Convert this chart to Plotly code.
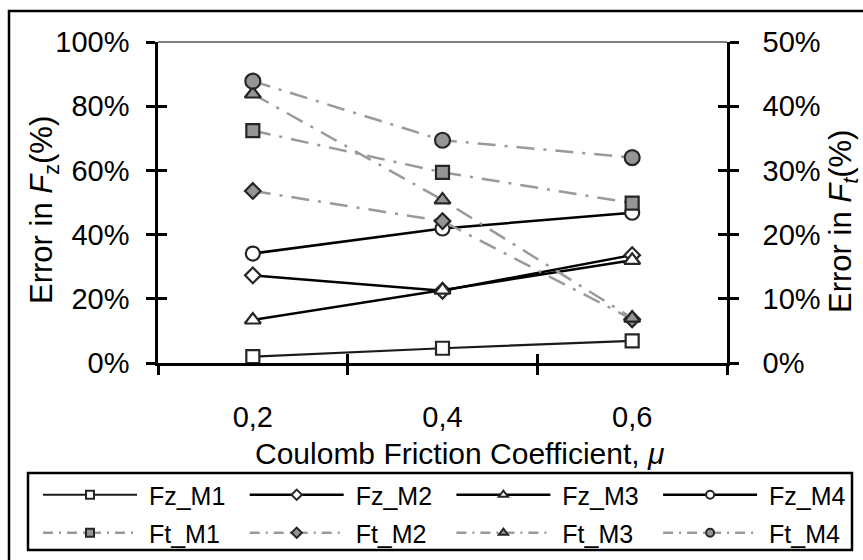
import plotly.graph_objects as go

# Friction coefficient categories
mu = ["0,2", "0,4", "0,6"]

# Error in normal force Fz (left axis, fraction)
fz_m1 = [0.020, 0.046, 0.069]
fz_m2 = [0.273, 0.225, 0.336]
fz_m3 = [0.134, 0.227, 0.320]
fz_m4 = [0.341, 0.419, 0.468]

# Error in tangential force Ft (right axis, fraction)
ft_m1 = [0.362, 0.297, 0.249]
ft_m2 = [0.268, 0.221, 0.068]
ft_m3 = [0.419, 0.254, 0.070]
ft_m4 = [0.439, 0.347, 0.320]

left_ticks = [0, 0.2, 0.4, 0.6, 0.8, 1.0]
right_ticks = [0, 0.1, 0.2, 0.3, 0.4, 0.5]

FONT = "Liberation Sans, Arial, sans-serif"
DASH = "18px,9px,3px,9px"
EDGE = "#262626"
GRAY_LINE = "#9a9a9a"
GRAY_FILL = "#959595"

# plot-area geometry in pixels
W, H = 863, 560
L, R, T, B = 158, 727, 42, 363
PW, PH = R - L, B - T


def px(x):
    return (x - L) / PW


def py(y):
    return (B - y) / PH


fz_series = [
    ("Fz_M1", fz_m1, "square", 13, "#1a1a1a", 2.2),
    ("Fz_M2", fz_m2, "diamond", 12, "#000000", 2.5),
    ("Fz_M3", fz_m3, "triangle-up", 14, "#000000", 2.5),
    ("Fz_M4", fz_m4, "circle", 14, "#000000", 2.5),
]
ft_series = [
    ("Ft_M1", ft_m1, "square", 13),
    ("Ft_M2", ft_m2, "diamond", 12),
    ("Ft_M3", ft_m3, "triangle-up", 14),
    ("Ft_M4", ft_m4, "circle", 15),
]

fig = go.Figure()

for name, vals, sym, size, lc, lw in fz_series:
    fig.add_trace(go.Scatter(
        x=mu, y=vals, name=name, mode="lines+markers",
        line=dict(color=lc, width=lw),
        marker=dict(symbol=sym, size=size, color="white",
                    line=dict(color=EDGE, width=2.2)),
        xaxis="x", yaxis="y", showlegend=False, cliponaxis=False,
    ))

for name, vals, sym, size in ft_series:
    fig.add_trace(go.Scatter(
        x=mu, y=vals, name=name, mode="lines+markers",
        line=dict(color=GRAY_LINE, width=2.5, dash=DASH),
        marker=dict(symbol=sym, size=size, color=GRAY_FILL,
                    line=dict(color=EDGE, width=2.2)),
        xaxis="x", yaxis="y2", showlegend=False, cliponaxis=False,
    ))

# legend: 2 rows x 4 columns, one single-entry legend per cell
NB = "\u00a0"
COL0, COL_STEP = 38, 206.7
ROW_Y = [495, 533]
legend_common = dict(
    orientation="h", xanchor="left", yanchor="middle",
    borderwidth=0, bgcolor="rgba(0,0,0,0)",
    font=dict(family=FONT, size=25), itemwidth=94,
)
legend_layouts = {}

for k, (name, vals, sym, size, lc, lw) in enumerate(fz_series):
    key = "legend" if k == 0 else f"legend{k + 1}"
    fig.add_trace(go.Scatter(
        x=[None], y=[None], name=NB + name, mode="lines+markers",
        line=dict(color=lc, width=lw),
        marker=dict(symbol=sym, size=8, color="white",
                    line=dict(color=EDGE, width=2)),
        xaxis="x", yaxis="y", legend=key,
    ))
    legend_layouts[key] = dict(x=px(COL0 + k * COL_STEP), y=py(ROW_Y[0]),
                               **legend_common)

for k, (name, vals, sym, size) in enumerate(ft_series):
    key = f"legend{k + 5}"
    fig.add_trace(go.Scatter(
        x=[None], y=[None], name=NB + name, mode="lines+markers",
        line=dict(color=GRAY_LINE, width=2.5, dash="10px,6px,2px,6px"),
        marker=dict(symbol=sym, size=8, color=GRAY_FILL,
                    line=dict(color=EDGE, width=2)),
        xaxis="x", yaxis="y2", legend=key,
    ))
    legend_layouts[key] = dict(x=px(COL0 + k * COL_STEP), y=py(ROW_Y[1]),
                               **legend_common)

axis_common = dict(showgrid=False, zeroline=False, tickcolor="black",
                   tickwidth=2.5, ticklen=9)
tick_font = dict(size=29)

fig.update_layout(
    width=W, height=H,
    margin=dict(l=L, r=W - R, t=T, b=H - B, autoexpand=False),
    paper_bgcolor="white", plot_bgcolor="white",
    font=dict(family=FONT, size=28, color="black"),
    xaxis=dict(
        type="category", categoryorder="array", categoryarray=mu,
        range=[-0.5, 2.5], tickson="boundaries", ticks="outside",
        showline=True, linecolor="black", linewidth=2.5,
        ticklabelstandoff=26, tickfont=tick_font,
        **axis_common,
    ),
    xaxis2=dict(
        overlaying="x", anchor="y", side="bottom", range=[-0.5, 2.5],
        tickmode="array", tickvals=[-0.5, 0.5, 1.5, 2.5],
        ticks="inside", showticklabels=False, showline=False,
        **axis_common,
    ),
    yaxis=dict(
        range=[0, 1], tickmode="array", tickvals=left_ticks,
        tickformat=".0%", ticks="outside", showline=True,
        linecolor="black", linewidth=2.5, ticklabelstandoff=11,
        tickfont=tick_font, **axis_common,
    ),
    yaxis2=dict(
        overlaying="y", side="right", anchor="x", range=[0, 0.5],
        tickmode="array", tickvals=right_ticks, tickformat=".0%",
        ticks="outside", showline=True, linecolor="black", linewidth=2.5,
        ticklabelstandoff=18, tickfont=tick_font, **axis_common,
    ),
    yaxis3=dict(
        overlaying="y", side="left", anchor="x", range=[0, 1],
        tickmode="array", tickvals=left_ticks, ticks="inside",
        showticklabels=False, showline=False, **axis_common,
    ),
    yaxis4=dict(
        overlaying="y", side="right", anchor="x", range=[0, 0.5],
        tickmode="array", tickvals=right_ticks, ticks="inside",
        showticklabels=False, showline=False, **axis_common,
    ),
    annotations=[
        dict(text="Coulomb Friction Coefficient, <i>μ</i>",
             xref="paper", yref="paper", x=px(460), y=py(453),
             xanchor="center", yanchor="middle", showarrow=False,
             font=dict(size=30)),
        dict(text="Error in <i>F</i><sub>z</sub>(%)", textangle=-90,
             xref="paper", yref="paper", x=px(44), y=py(210),
             xanchor="center", yanchor="middle", showarrow=False,
             font=dict(size=31)),
        dict(text="Error in <i>F<sub>t</sub></i>(%)", textangle=-90,
             xref="paper", yref="paper", x=px(843), y=py(222),
             xanchor="center", yanchor="middle", showarrow=False,
             font=dict(size=31)),
    ],
    shapes=[
        # outer chart frame
        dict(type="rect", xref="paper", yref="paper",
             x0=px(9), x1=px(W + 20), y0=py(H + 20), y1=py(11),
             line=dict(color="black", width=2.5), layer="below"),
        # legend frame
        dict(type="rect", xref="paper", yref="paper",
             x0=px(28), x1=px(852), y0=py(550), y1=py(473),
             line=dict(color="black", width=2.5), layer="below"),
        # plot-area top edge
        dict(type="line", xref="paper", yref="paper",
             x0=0, x1=1, y0=1, y1=1,
             line=dict(color="#555555", width=1.5)),
    ],
    **legend_layouts,
)

# placeholder traces so the overlay tick axes render
for xa, ya in [("x2", "y"), ("x", "y3"), ("x", "y4")]:
    fig.add_trace(go.Scatter(x=[None], y=[None], xaxis=xa, yaxis=ya,
                             showlegend=False, hoverinfo="skip"))

fig.write_html("out.html")
